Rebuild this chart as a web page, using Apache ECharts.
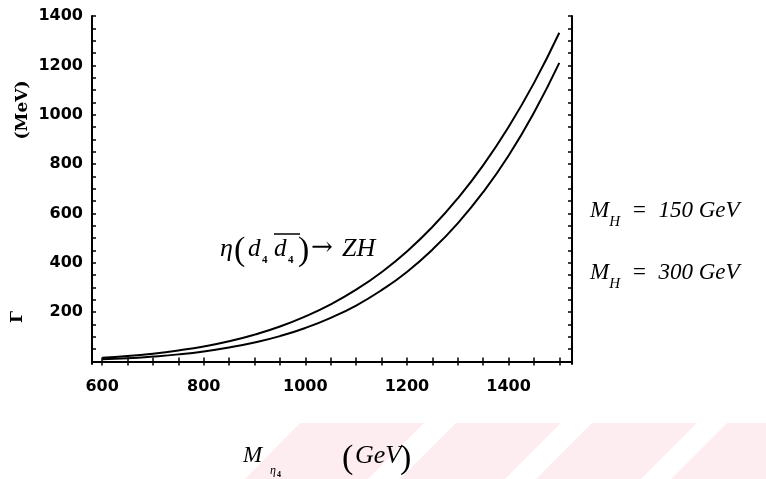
<!DOCTYPE html>
<html>
<head>
<meta charset="utf-8">
<script src="https://cdn.jsdelivr.net/npm/echarts@6/dist/echarts.min.js"></script>
<style>html,body{margin:0;padding:0;background:#fff;}#c{width:766px;height:479px;}</style>
</head>
<body>
<div id="c"></div>
<script>
// Data
const massGeV = [600,650,700,750,800,850,900,950,1000,1050,1100,1150,1200,1250,1300,1350,1400,1450,1500];
const gammaMH150 = [15,22,32,45,61,82,109,142,183,232,291,362,446,545,661,795,950,1128,1332];
const gammaMH300 = [9,13,20,29,41,57,77,103,136,177,227,289,363,453,560,686,834,1008,1210];
const xTickLabels = [600,800,1000,1200,1400];
const yTickLabels = [200,400,600,800,1000,1200,1400];
const xMinorTicks = [600,650,700,750,800,850,900,950,1000,1050,1100,1150,1200,1250,1300,1350,1400,1450,1500];
const yMinorTicks = [0,50,100,150,200,250,300,350,400,450,500,550,600,650,700,750,800,850,900,950,1000,1050,1100,1150,1200,1250,1300,1350,1400];

const chart = echarts.init(document.getElementById('c'), null, {renderer:'canvas'});
const lineAxis = {show:true, lineStyle:{color:'#000', width:2}};
const labFont = {color:'#000', fontFamily:'DejaVu Sans', fontWeight:'bold', fontSize:16, formatter:function(v){return String(v);}};
function pair(xs, ys){ return xs.map((x,i)=>[x, ys[i]]); }

const pinkColor = '#fdedf0';
function stripe(t0,t1,b0,b1){
  return {type:'polygon', silent:true, z:-10,
    shape:{points:[[t0,423],[t1,423],[b1,479],[b0,479]]},
    style:{fill:pinkColor}};
}
const serif = 'Liberation Serif';
const rightRich = {m:{font:'italic 23px "'+serif+'"'}, s:{font:'italic 15px "'+serif+'"', padding:[0,0,-8,0], verticalAlign:'bottom'}, t:{font:'italic 23px "'+serif+'"'}};

chart.setOption({
  animation:false,
  backgroundColor:'#fff',
  grid:{left:92, right:194, top:16, bottom:115, containLabel:false},
  xAxis:[
    {type:'value', position:'bottom', min:580, max:1525,
      axisLine:lineAxis, splitLine:{show:false},
      axisTick:{show:true, inside:true, length:4, customValues:xMinorTicks, lineStyle:{color:'#000',width:1.5}},
      axisLabel:Object.assign({show:true, margin:15, customValues:xTickLabels}, labFont)},
    {type:'value', position:'top', min:580, max:1525,
      axisLine:lineAxis, splitLine:{show:false},
      axisTick:{show:true, inside:true, length:4, customValues:xMinorTicks, lineStyle:{color:'#000',width:1.5}},
      axisLabel:{show:false}}
  ],
  yAxis:[
    {type:'value', position:'left', min:-10, max:1400,
      axisLine:lineAxis, splitLine:{show:false},
      axisTick:{show:true, inside:true, length:4, customValues:yMinorTicks, lineStyle:{color:'#000',width:1.5}},
      axisLabel:Object.assign({show:true, margin:9, customValues:yTickLabels}, labFont)},
    {type:'value', position:'right', min:-10, max:1400,
      axisLine:lineAxis, splitLine:{show:false},
      axisTick:{show:true, inside:true, length:4, customValues:yMinorTicks, lineStyle:{color:'#000',width:1.5}},
      axisLabel:{show:false}}
  ],
  series:[
    {name:'M_H = 150 GeV', type:'line', xAxisIndex:0, yAxisIndex:0, data:pair(massGeV, gammaMH150),
      smooth:true, showSymbol:false, lineStyle:{color:'#000', width:2}},
    {name:'M_H = 300 GeV', type:'line', xAxisIndex:0, yAxisIndex:0, data:pair(massGeV, gammaMH300),
      smooth:true, showSymbol:false, lineStyle:{color:'#000', width:2}}
  ],
  graphic:[
    stripe(300,424,245,368),
    stripe(456,561,400,505),
    stripe(592,697,536,641),
    stripe(727,800,671,800),
    {type:'text', x:23, y:110, rotation:Math.PI/2,
      style:{text:'(MeV)', font:'bold 17px "DejaVu Serif"', fill:'#000', align:'center', verticalAlign:'middle'}},
    {type:'text', x:18, y:317, rotation:Math.PI/2,
      style:{text:'Γ', font:'bold 17px "DejaVu Serif"', fill:'#000', align:'center', verticalAlign:'middle'}},
    // right labels
    {type:'text', x:590, y:222, style:{text:'{m|M}{s|H}{t|  =  150 GeV}', fill:'#000', verticalAlign:'bottom', rich:rightRich}},
    {type:'text', x:590, y:284, style:{text:'{m|M}{s|H}{t|  =  300 GeV}', fill:'#000', verticalAlign:'bottom', rich:rightRich}},
    // annotation
    {type:'text', x:220, y:262, style:{text:'η', font:'italic 26px "'+serif+'"', fill:'#000', verticalAlign:'bottom'}},
    {type:'text', x:234, y:268, style:{text:'(', font:'34px "'+serif+'"', fill:'#000', verticalAlign:'bottom'}},
    {type:'text', x:248, y:262, style:{text:'d', font:'italic 25px "'+serif+'"', fill:'#000', verticalAlign:'bottom'}},
    {type:'text', x:262, y:266, style:{text:'4', font:'bold 11px "'+serif+'"', fill:'#000', verticalAlign:'bottom'}},
    {type:'text', x:274, y:262, style:{text:'d', font:'italic 25px "'+serif+'"', fill:'#000', verticalAlign:'bottom'}},
    {type:'text', x:288, y:266, style:{text:'4', font:'bold 11px "'+serif+'"', fill:'#000', verticalAlign:'bottom'}},
    {type:'line', shape:{x1:274, y1:234, x2:300, y2:234}, style:{stroke:'#000', lineWidth:1.5}},
    {type:'text', x:298, y:268, style:{text:')', font:'34px "'+serif+'"', fill:'#000', verticalAlign:'bottom'}},
    {type:'text', x:311, y:261, style:{text:'→', font:'26px "DejaVu Serif"', fill:'#000', verticalAlign:'bottom'}},
    {type:'text', x:342, y:262, style:{text:'ZH', font:'italic 26px "'+serif+'"', fill:'#000', verticalAlign:'bottom'}},
    // x axis name
    {type:'text', x:243, y:467, style:{text:'M', font:'italic 23px "'+serif+'"', fill:'#000', verticalAlign:'bottom'}},
    {type:'text', x:270, y:477, style:{text:'η', font:'italic 12px "'+serif+'"', fill:'#000', verticalAlign:'bottom'}},
    {type:'text', x:277, y:479, style:{text:'4', font:'bold 8px "'+serif+'"', fill:'#000', verticalAlign:'bottom'}},
    {type:'text', x:342, y:476, style:{text:'(', font:'34px "'+serif+'"', fill:'#000', verticalAlign:'bottom'}},
    {type:'text', x:355, y:469, style:{text:'GeV', font:'italic 26px "'+serif+'"', fill:'#000', verticalAlign:'bottom'}},
    {type:'text', x:400, y:476, style:{text:')', font:'34px "'+serif+'"', fill:'#000', verticalAlign:'bottom'}}
  ]
});
</script>
</body>
</html>
